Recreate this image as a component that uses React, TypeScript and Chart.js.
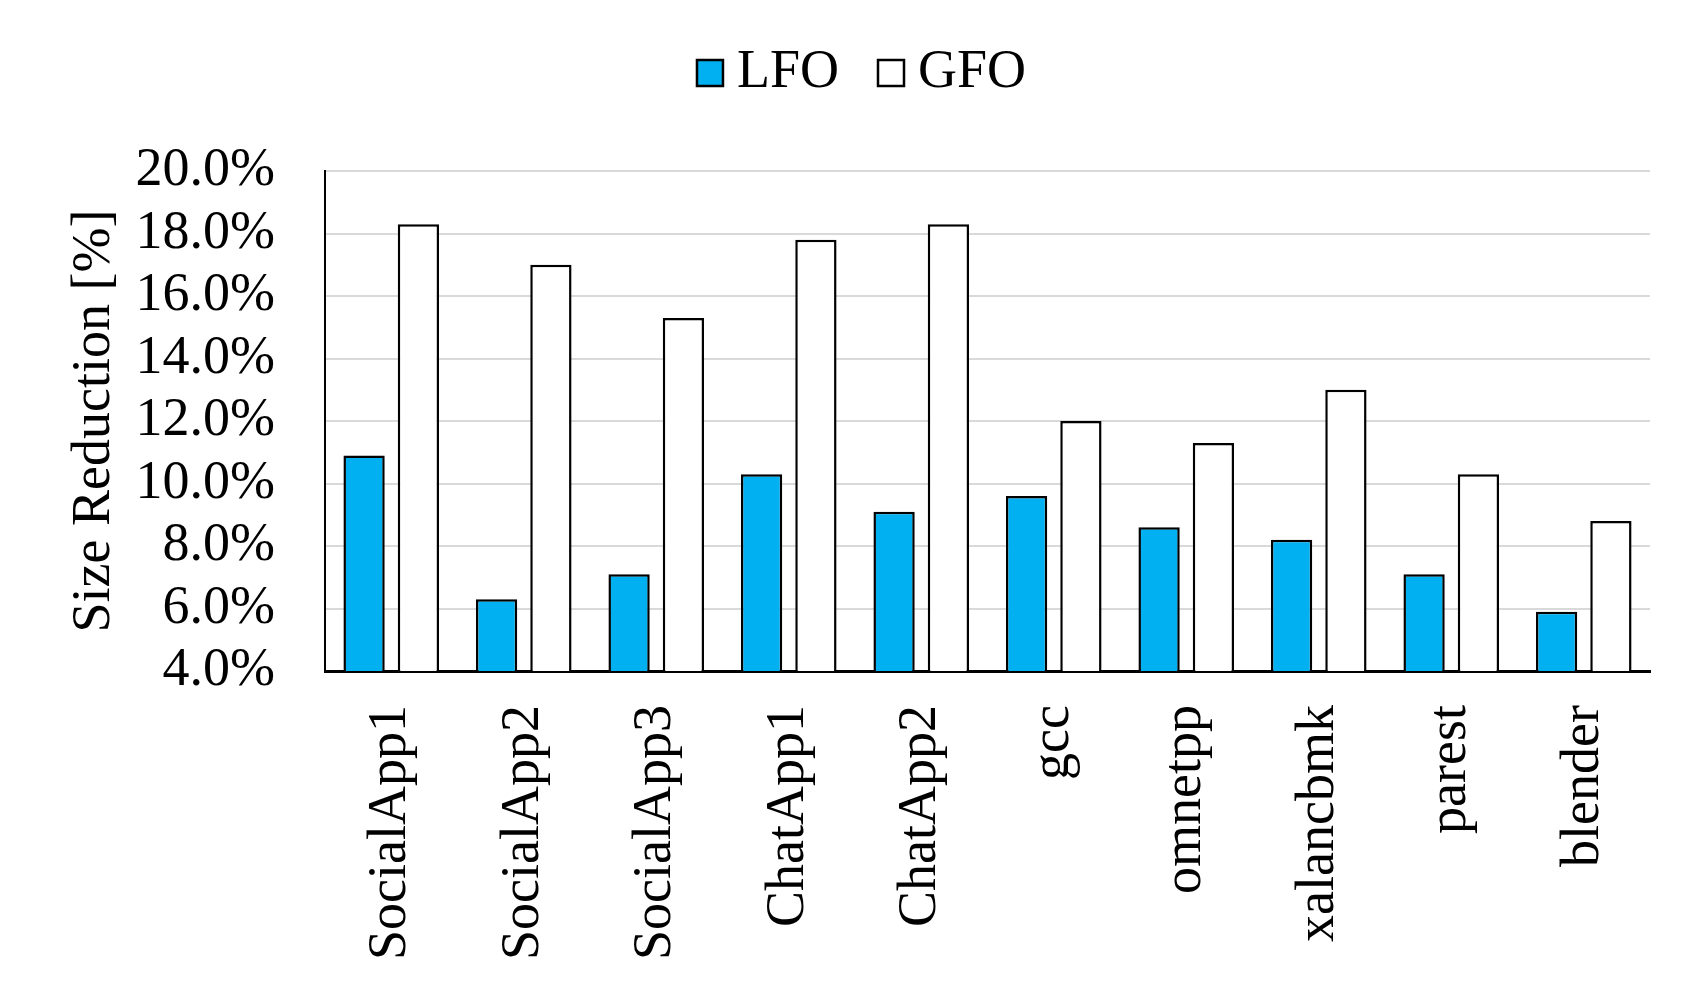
import React, { useEffect, useRef } from "react";
import { Chart, registerables } from "chart.js";

Chart.register(...registerables);

const categories = ["SocialApp1", "SocialApp2", "SocialApp3", "ChatApp1", "ChatApp2", "gcc", "omnetpp", "xalancbmk", "parest", "blender"];
const lfoValues = [10.9, 6.3, 7.1, 10.3, 9.1, 9.6, 8.6, 8.2, 7.1, 5.9];
const gfoValues = [18.3, 17.0, 15.3, 17.8, 18.3, 12.0, 11.3, 13.0, 10.3, 8.8];
const yMin = 4;
const yMax = 20;
const yStep = 2;

const FONT = "'Liberation Serif', 'Times New Roman', serif";

const legendPlacer = {
  id: "legendPlacer",
  beforeLayout(chart: any) {
    const lg = chart.legend;
    if (lg && !lg._spacerPatched) {
      const orig = lg.fit.bind(lg);
      lg.fit = function () {
        orig();
        this.height += 55;
      };
      lg._spacerPatched = true;
    }
  },
  afterLayout(chart: any) {
    const lg = chart.legend;
    if (lg) {
      lg.left += 43;
      lg.right += 43;
      lg.top -= 6;
      lg.bottom -= 6;
    }
  },
};

export default function App() {
  const ref = useRef<HTMLCanvasElement | null>(null);

  useEffect(() => {
    if (!ref.current) return;
    const chart = new Chart(ref.current, {
      type: "bar",
      data: {
        labels: categories,
        datasets: [
          {
            label: "LFO",
            data: lfoValues,
            backgroundColor: "#00B0F0",
            borderColor: "#000000",
            borderWidth: 2.5,
            categoryPercentage: 0.82,
            barPercentage: 0.76,
            pointStyle: "rect",
          },
          {
            label: "GFO",
            data: gfoValues,
            backgroundColor: "#FFFFFF",
            borderColor: "#000000",
            borderWidth: 2.5,
            categoryPercentage: 0.82,
            barPercentage: 0.76,
            pointStyle: "rect",
          },
        ],
      },
      options: {
        responsive: false,
        animation: false,
        layout: { padding: { top: 0, right: 55, bottom: 0, left: 0 } },
        plugins: {
          tooltip: { enabled: false },
          legend: {
            position: "top",
            align: "center",
            labels: {
              font: { family: FONT, size: 54 },
              color: "#000000",
              usePointStyle: true,
              boxWidth: 0.01,
              boxHeight: 26,
              padding: 52,
            },
          },
        },
        scales: {
          x: {
            grid: { display: false, drawTicks: false },
            border: { display: true, color: "#000000", width: 3 },
            ticks: {
              autoSkip: false,
              maxRotation: 90,
              minRotation: 90,
              padding: 34,
              color: "#000000",
              font: { family: FONT, size: 54 },
            },
            afterFit: (scale: any) => {
              scale.height = 328;
            },
          },
          y: {
            min: yMin,
            max: yMax,
            grid: { color: "#D9D9D9", lineWidth: 2, drawTicks: false },
            border: { display: true, color: "#000000", width: 2 },
            ticks: {
              stepSize: yStep,
              autoSkip: false,
              padding: 50,
              color: "#000000",
              font: { family: FONT, size: 54 },
              callback: (v: any) => Number(v).toFixed(1) + "%",
            },
            title: {
              display: true,
              text: "Size Reduction [%]",
              color: "#000000",
              font: { family: FONT, size: 54 },
              padding: { top: 62, bottom: 0 },
            },
            afterFit: (scale: any) => {
              scale.width = 325;
            },
          },
        },
      },
      plugins: [legendPlacer],
    });
    return () => chart.destroy();
  }, []);

  return (
    <div style={{ position: "fixed", left: 0, top: 0, width: 1705, height: 999, background: "#fff" }}>
      <canvas ref={ref} width={1705} height={999} style={{ display: "block", width: 1705, height: 999 }} />
    </div>
  );
}
